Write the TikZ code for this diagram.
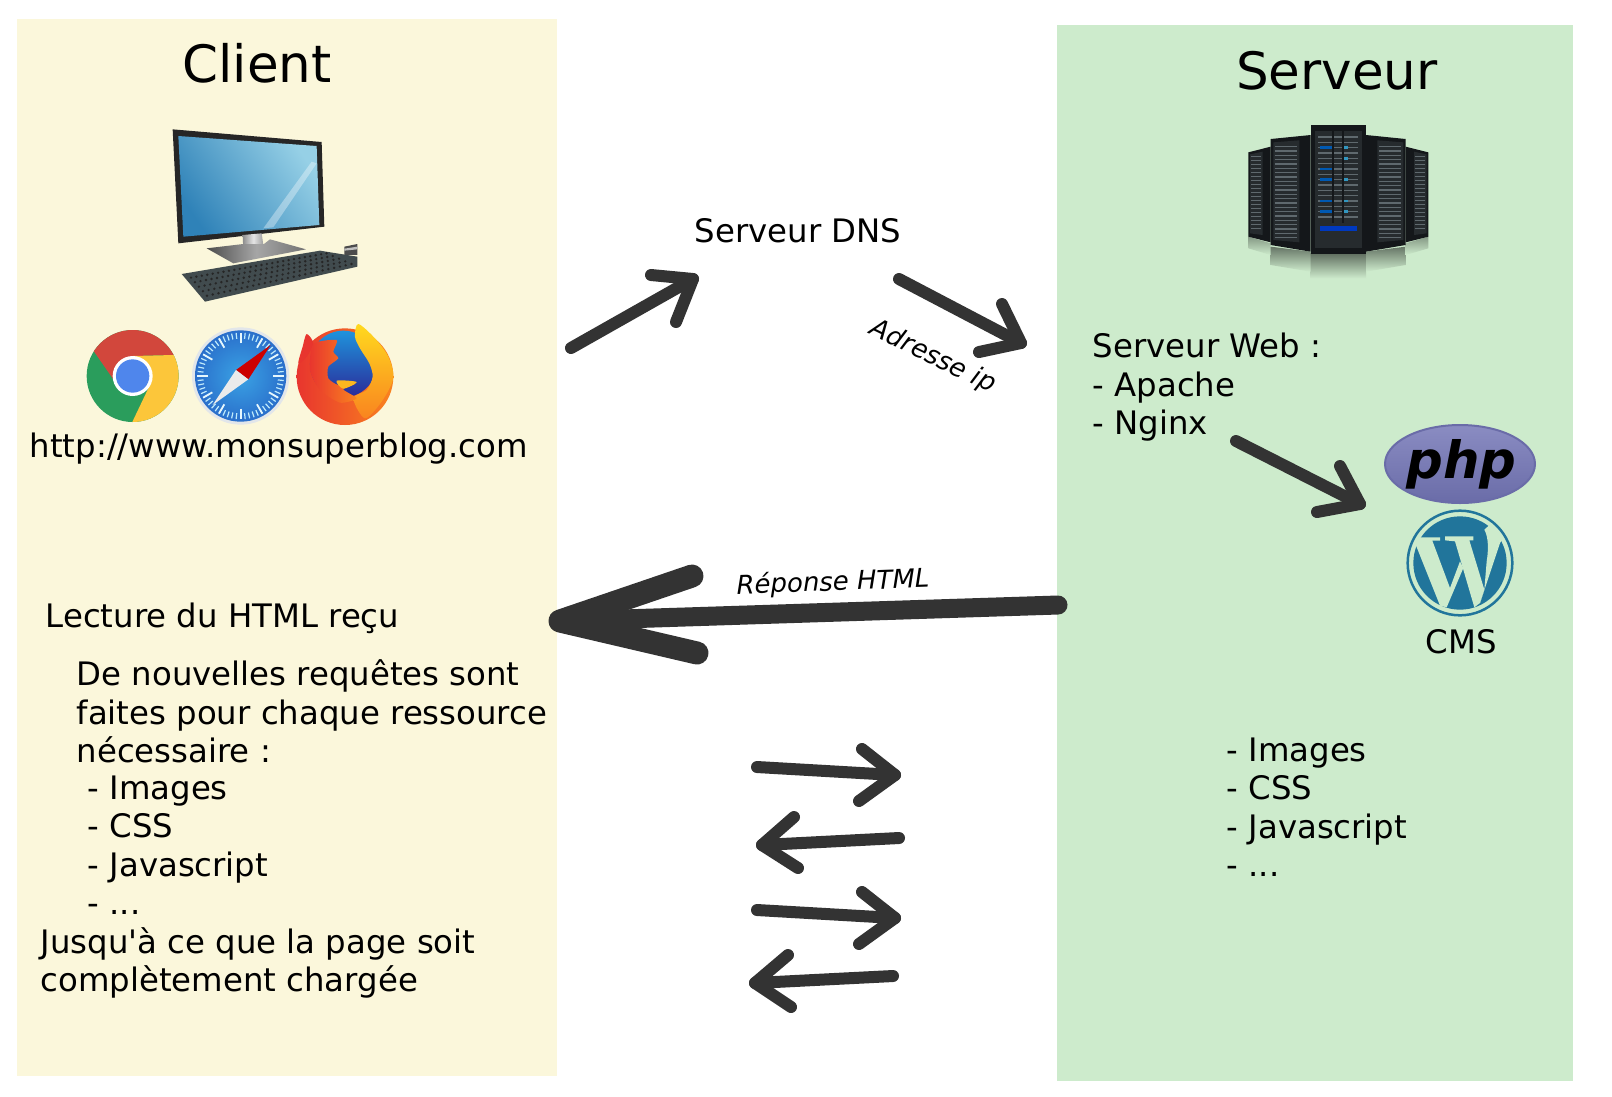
\documentclass[tikz,border=0pt]{standalone}
\usepackage{fontspec}
\setmainfont{DejaVu Sans}
\definecolor{clientbg}{HTML}{FBF7DB}
\definecolor{serverbg}{HTML}{CDEBCC}
\definecolor{arrowgrey}{HTML}{333333}
\definecolor{wpblue}{HTML}{21759B}
\definecolor{rackblack}{HTML}{14171A}
\definecolor{rackface}{HTML}{262B2E}
\definecolor{rackline}{HTML}{5F696E}
\definecolor{screenlow}{HTML}{2F82B8}
\definecolor{screenhigh}{HTML}{96D0E6}
\definecolor{phplight}{HTML}{8A8CC2}
\definecolor{phpdark}{HTML}{6A6CA8}
\definecolor{chromered}{HTML}{D2473C}
\definecolor{chromegreen}{HTML}{2A9D5C}
\definecolor{chromeyellow}{HTML}{FCC63A}
\definecolor{chromeblue}{HTML}{4F86EC}
\definecolor{safaririm}{HTML}{E2E6EA}
\definecolor{safarimid}{HTML}{3AA2E4}
\definecolor{safariedge}{HTML}{2A6FCB}
\definecolor{foxred}{HTML}{E8352E}
\definecolor{foxorange}{HTML}{F9841F}
\definecolor{foxyellow}{HTML}{FFD91F}
\definecolor{foxblue}{HTML}{1F93DC}
\definecolor{foxdeep}{HTML}{2B2A98}
\definecolor{keyboardgrey}{HTML}{414B4E}
\tikzset{
    bodytext/.style={font=\fontsize{9.2}{10.81}\selectfont, inner sep=0, anchor=base west, align=left},
    titletext/.style={font=\fontsize{14.65}{16}\selectfont, inner sep=0, anchor=base},
    arrowtext/.style={font=\fontsize{7.38}{9}\selectfont\itshape, inner sep=0},
    handarrow/.style={draw=arrowgrey, line width=0.12cm, line cap=round, line join=round},
    bigarrow/.style={draw=arrowgrey, line width=0.19cm, line cap=round, line join=round},
    bigbarb/.style={draw=arrowgrey, line width=0.23cm, line cap=round, line join=round},
}
\begin{document}
\begin{tikzpicture}[x=0.01cm, y=-0.01cm]
    \useasboundingbox (0, 0) rectangle (1612, 1096);
    \fill[white] (0, 0) rectangle (1612, 1096);

    % Panels
    \fill[clientbg] (17, 19) rectangle (557, 1076);
    \fill[serverbg] (1057, 25) rectangle (1573, 1081);

    % Titles
    \node[titletext] (clienttitle) at (257, 82) {Client};
    \node[titletext] (servertitle) at (1337, 89) {Serveur};

    % Computer
    \begin{scope}[shift={(160, 120)}, scale=0.3333]
        \fill[black!85] (38, 28) -- (485, 66) -- (493, 320) -- (55, 370) -- cycle;
        \shade[left color=screenlow, right color=screenhigh, shading angle=125]
            (55, 48) -- (470, 78) -- (478, 315) -- (70, 350) -- cycle;
        \fill[white, opacity=0.35] (455, 125) -- (470, 130) -- (340, 322) -- (310, 325) -- cycle;
        \shade[left color=black!45, right color=black!40, middle color=black!10]
            (248, 345) -- (305, 340) -- (312, 388) -- (250, 390) -- cycle;
        \shade[left color=black!70, right color=black!55, middle color=black!35]
            (140, 385) -- (250, 372) -- (312, 372) -- (330, 358) -- (438, 388) -- (220, 430) -- cycle;
        \fill[keyboardgrey] (65, 462) -- (480, 392) -- (592, 410) -- (592, 440) -- (135, 545) -- cycle;
        \foreach \i in {1, 2, ..., 26}
            \foreach \j in {1, 2, ..., 5}
                \fill[black!85] ({65 + 11.7 * \j + \i * (16 + 0.27 * \j)}, {462 + 13.8 * \j - \i * (2.7 + 0.22 * \j)}) circle (4);
        \fill[black!70] (553, 380) -- (592, 372) -- (592, 405) -- (553, 405) -- cycle;
        \fill[black!25] (553, 386) -- (592, 380) -- (592, 388) -- (553, 392) -- cycle;
    \end{scope}

    % Browsers
    \begin{scope}[shift={(80, 320)}, scale=0.3333]
        \begin{scope}
            \clip (158, 168) circle (138);
            \fill[chromegreen] (0, 0) rectangle (320, 330);
            \fill[chromered] (25, 70) -- (100, 178) -- (158, 108) -- (320, 104) -- (320, 0) -- (25, 0) -- cycle;
            \fill[chromeyellow] (320, 104) -- (158, 108) -- (205, 205) -- (155, 310) -- (155, 330) -- (320, 330) -- cycle;
        \end{scope}
        \fill[white] (158, 168) circle (60);
        \fill[chromeblue] (158, 168) circle (50);

        \fill[safaririm] (482, 168) circle (146);
        \shade[inner color=safarimid, outer color=safariedge] (482, 168) circle (137);
        \foreach \a in {0, 6, ..., 354}
            \draw[white!75!cyan, line width=0.012cm, shift={(482, 168)}] (\a:112) -- (\a:130);
        \foreach \a in {0, 30, ..., 330}
            \draw[white!90!cyan, line width=0.018cm, shift={(482, 168)}] (\a:98) -- (\a:130);
        \fill[red!80!black] (572, 75) -- (468, 150) -- (505, 178) -- cycle;
        \fill[black!8] (398, 255) -- (468, 150) -- (505, 178) -- cycle;

        \shade[left color=foxred, right color=foxorange] (795, 170) circle (145);
        \fill[foxred] plot[smooth cycle, tension=0.5] coordinates {(680, 42) (700, 70) (680, 110) (655, 130) (668, 80)};
        \shade[top color=foxblue, bottom color=foxdeep] (790, 132) circle (100);
        \shade[top color=foxyellow, bottom color=foxorange]
            plot[smooth cycle, tension=0.5] coordinates {(835, 12) (885, 55) (925, 110) (940, 175) (905, 245) (855, 295) (820, 235) (860, 210) (878, 170) (868, 130) (840, 85) (825, 50)};
        \shade[left color=foxred, right color=foxorange]
            plot[smooth cycle, tension=0.4] coordinates {(700, 72) (770, 60) (760, 95) (775, 115) (745, 140) (745, 175) (775, 195) (825, 192) (790, 208) (830, 235) (780, 248) (720, 210) (690, 150)};
        \fill[foxyellow!60!foxorange] plot[smooth cycle, tension=0.5] coordinates {(770, 182) (830, 186) (790, 206)};
    \end{scope}

    % Server racks
    \begin{scope}[shift={(1240, 115)}, scale=0.3333]
        \shade[top color=black!55!serverbg, bottom color=serverbg] (212, 412) rectangle (378, 490);
        \shade[top color=black!50!serverbg, bottom color=serverbg] (92, 395) -- (212, 410) -- (212, 470) -- (92, 450) -- cycle;
        \shade[top color=black!50!serverbg, bottom color=serverbg] (378, 410) -- (497, 395) -- (497, 450) -- (378, 470) -- cycle;
        \shade[top color=black!35!serverbg, bottom color=serverbg] (25, 365) -- (92, 385) -- (92, 420) -- (25, 400) -- cycle;
        \shade[top color=black!35!serverbg, bottom color=serverbg] (497, 385) -- (565, 365) -- (565, 400) -- (497, 420) -- cycle;
        \fill[rackblack] (25, 112) -- (92, 95) -- (92, 382) -- (25, 365) -- cycle;
        \fill[rackblack] (565, 112) -- (497, 95) -- (497, 382) -- (565, 365) -- cycle;
        \fill[rackblack] (92, 72) -- (212, 60) -- (212, 410) -- (92, 390) -- cycle;
        \fill[rackblack] (497, 72) -- (378, 60) -- (378, 410) -- (497, 390) -- cycle;
        \fill[rackblack] (212, 30) rectangle (378, 418);
        % Front panels
        \fill[rackface] (30, 118) -- (68, 110) -- (68, 360) -- (30, 355) -- cycle;
        \fill[rackface] (560, 118) -- (522, 110) -- (522, 360) -- (560, 355) -- cycle;
        \fill[rackface] (100, 82) -- (178, 76) -- (178, 382) -- (100, 375) -- cycle;
        \fill[rackface] (490, 82) -- (412, 76) -- (412, 382) -- (490, 375) -- cycle;
        \fill[rackface] (225, 48) rectangle (365, 400);
        \foreach \y in {125, 137, ..., 350} {
            \draw[rackline, line width=0.012cm] (34, \y) -- (64, \y);
            \draw[rackline, line width=0.012cm] (526, \y) -- (556, \y);
        }
        \foreach \y in {95, 108, ..., 370} {
            \draw[rackline, line width=0.012cm] (106, \y) -- (172, \y);
            \draw[rackline, line width=0.012cm] (418, \y) -- (484, \y);
        }
        \foreach \y in {66, 82, ..., 320}
            \draw[rackline, line width=0.012cm] (235, \y) -- (355, \y);
        \foreach \y in {98, 162, 194, 258, 290}
            \draw[blue!50!cyan!70!black, line width=0.025cm] (240, \y) -- (275, \y);
        \foreach \y in {98, 130, 194, 258, 290}
            \draw[cyan!50!teal, line width=0.025cm] (312, \y) -- (325, \y);
        \fill[blue!70!cyan!75!black] (240, 332) rectangle (350, 347);
        \fill[rackblack] (276, 48) rectangle (282, 325);
        \fill[rackblack] (306, 48) rectangle (311, 325);
    \end{scope}

    % PHP logo
    \begin{scope}[shift={(1380, 415)}, scale=0.3333]
        \shade[top color=phplight, bottom color=phpdark, draw=phpdark, line width=0.02cm]
            (240, 147) ellipse (225 and 117);
        \node[font=\fontsize{14.6}{16}\bfseries\itshape\selectfont, inner sep=0, anchor=base] (phplogo) at (245, 189) {php};
    \end{scope}

    % Wordpress logo
    \begin{scope}[shift={(1405, 508)}, scale=0.3333]
        \draw[wpblue, line width=0.025cm] (165, 165) circle (157);
        \fill[wpblue] (165, 165) circle (140);
        \fill[serverbg] (38, 88) -- (105, 88) -- (105, 98) -- (82, 98) -- (135, 240) -- (165, 160) -- (175, 180) -- (125, 298) -- (105, 293) -- (32, 110) -- cycle;
        \fill[serverbg] (120, 85) -- (205, 85) -- (205, 97) -- (193, 97) -- (238, 245) -- (225, 285) -- (208, 298) -- (150, 100) -- (120, 97) -- cycle;
        \fill[serverbg] (238, 65) .. controls (252, 90) and (250, 130) .. (245, 160) -- (238, 245) -- (225, 285) -- (285, 105) -- (295, 90) -- (260, 45) -- cycle;
    \end{scope}

    % Texts of the client
    \node[bodytext] (url) at (29, 457) {http://www.monsuperblog.com};
    \node[bodytext] (lecture) at (45, 627) {Lecture du HTML reçu};
    \node[bodytext] (requetes) at (76, 762) {De nouvelles requêtes sont\\faites pour chaque ressource\\nécessaire :};
    \node[bodytext] (clientres) at (87, 914) {- Images\\- CSS\\- Javascript\\- ...};
    \node[bodytext] (jusqua) at (40, 991) {Jusqu\textquotesingle à ce que la page soit\\complètement chargée};

    % Texts of the server
    \node[bodytext] (web) at (1092, 434) {Serveur Web :\\- Apache\\- Nginx};
    \node[bodytext] (cms) at (1425, 653) {CMS};
    \node[bodytext] (serverres) at (1226, 876) {- Images\\- CSS\\- Javascript\\- ...};

    % Middle column
    \node[bodytext] (dns) at (694, 242) {Serveur DNS};
    \node[arrowtext, rotate=-26] (adresse) at (933, 357) {Adresse ip};
    \node[arrowtext, rotate=2] (reponse) at (833, 583) {Réponse HTML};

    % Request to the DNS
    \coordinate (dnstail) at (571, 348);
    \coordinate (dnstip) at (693, 279);
    \coordinate (dnsbarba) at (651, 275);
    \coordinate (dnsbarbb) at (676, 322);
    \draw[handarrow] (dnstail) -- (dnstip);
    \draw[handarrow] (dnsbarba) -- (dnstip) -- (dnsbarbb);

    % Ip address to the server
    \coordinate (iptail) at (899, 279);
    \coordinate (iptip) at (1021, 343);
    \coordinate (ipbarba) at (1002, 304);
    \coordinate (ipbarbb) at (979, 352);
    \draw[handarrow] (iptail) -- (iptip);
    \draw[handarrow] (ipbarba) -- (iptip) -- (ipbarbb);

    % Web server to the CMS
    \coordinate (cmstail) at (1236, 441);
    \coordinate (cmstip) at (1360, 504);
    \coordinate (cmsbarba) at (1340, 466);
    \coordinate (cmsbarbb) at (1317, 512);
    \draw[handarrow] (cmstail) -- (cmstip);
    \draw[handarrow] (cmsbarba) -- (cmstip) -- (cmsbarbb);

    % HTML response
    \coordinate (htmltail) at (1058, 605);
    \coordinate (htmltip) at (560, 621);
    \coordinate (htmlbarba) at (692, 576);
    \coordinate (htmlbarbb) at (697, 653);
    \draw[bigarrow] (htmltail) -- (htmltip);
    \draw[bigbarb] (htmlbarba) -- (htmltip) -- (htmlbarbb);

    % Next requests
    \coordinate (reqatail) at (757, 767);
    \coordinate (reqatip) at (895, 775);
    \coordinate (reqabarba) at (862, 749);
    \coordinate (reqabarbb) at (859, 801);
    \draw[handarrow] (reqatail) -- (reqatip);
    \draw[handarrow] (reqabarba) -- (reqatip) -- (reqabarbb);

    \coordinate (repatail) at (899, 838);
    \coordinate (repatip) at (762, 845);
    \coordinate (repabarba) at (794, 817);
    \coordinate (repabarbb) at (798, 868);
    \draw[handarrow] (repatail) -- (repatip);
    \draw[handarrow] (repabarba) -- (repatip) -- (repabarbb);

    \coordinate (reqbtail) at (757, 910);
    \coordinate (reqbtip) at (895, 918);
    \coordinate (reqbbarba) at (862, 892);
    \coordinate (reqbbarbb) at (859, 944);
    \draw[handarrow] (reqbtail) -- (reqbtip);
    \draw[handarrow] (reqbbarba) -- (reqbtip) -- (reqbbarbb);

    \coordinate (repbtail) at (893, 976);
    \coordinate (repbtip) at (755, 983);
    \coordinate (repbbarba) at (788, 955);
    \coordinate (repbbarbb) at (791, 1007);
    \draw[handarrow] (repbtail) -- (repbtip);
    \draw[handarrow] (repbbarba) -- (repbtip) -- (repbbarbb);
\end{tikzpicture}
\end{document}
